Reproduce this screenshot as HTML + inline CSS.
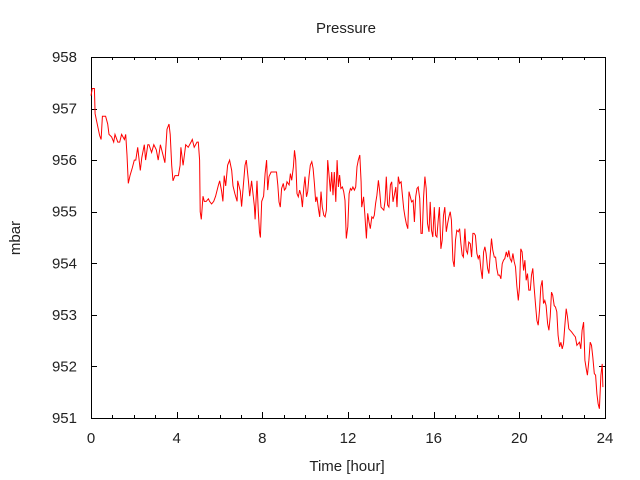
<!DOCTYPE html>
<html><head><meta charset="utf-8"><style>
html,body{margin:0;padding:0;background:#fff;}
svg{display:block;font-family:"Liberation Sans","DejaVu Sans",sans-serif;}
</style></head><body>
<svg id="chart" width="640" height="480" viewBox="0 0 640 480">
<rect x="0" y="0" width="640" height="480" fill="#fff"/>
<text x="346" y="33" font-size="15" text-anchor="middle" fill="#222">Pressure</text>
<text transform="translate(20,238) rotate(-90)" font-size="15" text-anchor="middle" fill="#222">mbar</text>
<text x="347" y="471" font-size="15" text-anchor="middle" fill="#222">Time [hour]</text>
<g id="axes"></g>
<g id="series"></g>
</svg>
<script>
const xTickLabels=[0,4,8,12,16,20,24];
const yTickLabels=[951,952,953,954,955,956,957,958];
const hours=[0,0.06,0.16,0.19,0.40,0.47,0.53,0.68,0.78,0.84,0.96,1.06,1.12,1.25,1.34,1.43,1.56,1.62,1.68,1.74,1.82,1.93,2.02,2.09,2.18,2.30,2.37,2.49,2.55,2.65,2.71,2.83,2.93,3.05,3.14,3.24,3.36,3.45,3.55,3.64,3.70,3.77,3.83,3.92,4.08,4.16,4.20,4.30,4.42,4.54,4.67,4.73,4.82,4.95,5.01,5.07,5.10,5.15,5.23,5.29,5.38,5.48,5.54,5.63,5.73,5.82,5.94,6.01,6.10,6.16,6.22,6.29,6.38,6.47,6.57,6.63,6.72,6.82,6.85,6.97,7.03,7.19,7.25,7.35,7.41,7.50,7.63,7.66,7.75,7.81,7.87,7.91,7.97,8.06,
8.13,8.20,8.25,8.31,8.41,8.52,8.66,8.72,8.78,8.84,8.90,8.98,9.03,9.09,9.15,9.25,9.31,9.37,9.45,9.50,9.56,9.62,9.68,9.74,9.81,9.87,9.93,9.99,10.06,10.12,10.18,10.24,10.31,10.37,10.43,10.49,10.55,10.62,10.68,10.74,10.80,10.87,10.93,10.99,11.05,11.11,11.18,11.24,11.30,11.36,11.43,11.49,11.55,11.61,11.67,11.74,11.80,11.86,11.92,11.99,12.05,12.11,12.17,12.23,12.30,12.36,12.42,12.48,12.55,12.61,12.64,12.73,12.79,12.86,12.92,12.98,13.04,13.11,13.17,13.23,13.29,13.35,13.42,13.48,13.54,13.60,13.67,13.73,13.79,13.85,13.91,13.98,14.04,14.10,14.16,14.23,14.29,14.35,14.41,14.48,14.54,14.60,14.66,14.72,14.79,14.85,14.91,14.97,15.04,15.10,15.16,15.22,15.28,15.35,15.41,15.47,15.53,
15.59,15.65,15.71,15.78,15.84,15.90,15.96,16.03,16.09,16.15,16.21,16.27,16.34,16.40,16.46,16.52,16.59,16.65,16.71,16.77,16.83,16.90,16.96,17.02,17.08,17.15,17.21,17.27,17.33,17.39,17.46,17.52,17.58,17.64,17.71,17.77,17.83,17.89,17.95,18.02,18.08,18.14,18.20,18.27,18.33,18.39,18.45,18.52,18.58,18.64,18.70,18.76,18.83,18.89,18.95,19.01,19.08,19.14,19.20,19.26,19.32,19.39,19.45,19.51,19.57,19.64,19.70,19.76,19.82,19.88,19.95,20.01,20.07,20.13,20.20,20.26,20.32,20.38,20.44,20.51,20.57,20.63,20.69,20.76,20.82,20.88,20.94,21.00,21.07,21.13,21.19,21.25,21.32,21.38,21.44,21.50,21.56,21.63,21.69,21.75,21.81,21.88,21.94,22.00,22.06,22.12,22.19,22.25,22.31,22.37,22.44,22.56,22.62,22.69,22.75,22.81,22.87,22.93,23.00,23.06,23.12,23.18,23.25,23.31,23.37,23.43,23.50,23.56,23.62,23.68,23.74,23.81,23.87,23.90];
const pressure=[957.25,957.39,957.39,956.9,956.48,956.4,956.85,956.85,956.7,956.5,956.45,956.35,956.5,956.35,956.35,956.5,956.4,956.5,956.1,955.55,955.7,955.85,956.0,956.0,956.25,955.8,956.05,956.3,956.0,956.3,956.3,956.15,956.3,956.2,956.0,956.3,956.1,955.95,956.6,956.7,956.5,955.9,955.6,955.7,955.7,955.9,956.25,955.9,956.3,956.25,956.35,956.4,956.25,956.35,956.35,956.0,955.0,954.85,955.3,955.2,955.2,955.25,955.2,955.15,955.2,955.3,955.5,955.6,955.4,955.2,955.7,955.5,955.9,956.0,955.8,955.5,955.35,955.2,955.6,955.4,955.1,955.9,956.0,955.6,955.3,955.6,955.1,954.85,955.6,955.0,954.6,954.5,955.2,955.3,
955.74,956.00,955.42,955.68,955.77,955.77,955.77,955.52,955.19,955.09,955.45,955.55,955.42,955.45,955.58,955.52,955.74,955.61,955.87,956.19,956.00,955.35,955.29,955.42,955.32,955.09,955.45,955.68,955.29,955.39,955.68,955.90,955.97,955.84,955.55,955.19,955.29,955.06,954.90,955.39,955.09,954.93,954.90,955.03,956.00,955.74,955.39,955.77,955.32,955.77,955.19,956.00,955.48,955.71,955.45,955.48,955.39,955.22,954.48,954.71,955.35,955.45,955.42,955.48,955.42,955.48,955.87,956.00,956.10,955.58,955.09,955.29,954.93,954.48,954.97,954.80,954.67,954.90,954.87,954.93,955.16,955.32,955.61,955.39,955.09,955.06,955.03,955.22,955.68,955.13,955.09,955.52,955.58,955.19,955.32,955.48,955.09,955.68,955.55,955.58,955.32,955.06,954.90,954.77,954.67,955.39,955.29,955.19,955.22,954.80,955.29,955.45,955.48,955.26,954.58,954.58,955.29,
955.68,955.45,954.77,954.61,955.19,954.64,954.51,955.09,954.54,954.51,954.84,955.09,954.28,954.45,954.93,955.09,954.61,954.77,954.90,955.00,954.84,954.06,953.93,954.45,954.64,954.61,954.67,954.38,954.16,954.12,954.67,954.25,954.19,954.41,954.38,954.12,954.58,954.58,954.54,954.19,954.09,954.16,953.90,953.70,954.22,954.32,954.19,953.90,953.80,954.16,954.48,954.25,954.12,954.12,953.90,953.77,953.77,953.70,953.99,954.06,954.09,954.22,954.12,954.25,954.09,954.03,954.19,954.03,953.93,953.57,953.28,953.54,954.28,954.22,953.86,954.06,953.67,953.80,953.48,953.48,953.77,953.90,953.54,953.18,952.89,952.80,953.09,953.54,953.67,953.22,953.28,953.18,952.83,952.70,952.96,953.44,953.38,953.18,953.15,953.06,952.60,952.38,952.47,952.34,952.44,952.76,953.12,952.96,952.73,952.70,952.67,952.60,952.57,952.41,952.44,952.47,952.34,952.70,952.86,952.12,951.96,951.83,952.12,952.47,952.41,952.18,951.86,951.83,951.47,951.28,951.18,951.83,952.05,951.60,951.66];

const X0=91,X1=605,Y0=418,Y1=57,XMIN=0,XMAX=24,YMIN=951,YMAX=958;
function sx(h){return X0+(h-XMIN)/(XMAX-XMIN)*(X1-X0);}
function sy(v){return Y0-(v-YMIN)/(YMAX-YMIN)*(Y0-Y1);}
const NS='http://www.w3.org/2000/svg';
const axes=document.getElementById('axes');
function line(x1,y1,x2,y2,name){
  const l=document.createElementNS(NS,'line');
  l.setAttribute('x1',x1);l.setAttribute('y1',y1);l.setAttribute('x2',x2);l.setAttribute('y2',y2);
  l.setAttribute('stroke','#000');l.setAttribute('stroke-width','1');
  
  
  axes.appendChild(l);
}
function text(x,y,s,anchor,name){
  const t=document.createElementNS(NS,'text');
  t.setAttribute('x',x);t.setAttribute('y',y);t.setAttribute('font-size','15');
  t.setAttribute('text-anchor',anchor);t.setAttribute('fill','#222');
  t.textContent=s;
  
  
  axes.appendChild(t);
}
// minor x ticks every hour
for(let h=XMIN;h<=XMAX;h++){
  const x=Math.round(sx(h))+0.5;
  const len=(h%4===0)?6:3;
  line(x,Y0,x,Y0-len,'x-tick');
  line(x,Y1,x,Y1+len,'x-tick-top');
}
xTickLabels.forEach(h=>{text(sx(h),443,String(h),'middle','x-tick-label');});
yTickLabels.forEach(v=>{
  const y=Math.round(sy(v))+0.5;
  line(X0,y,X0+6,y,'y-tick');
  line(X1,y,X1-6,y,'y-tick-right');
  text(77,sy(v)+5,String(v),'end','y-tick-label');
});
const frame=document.createElementNS(NS,'rect');
frame.setAttribute('x',X0+0.5);frame.setAttribute('y',Y1+0.5);
frame.setAttribute('width',X1-X0);frame.setAttribute('height',Y0-Y1);
frame.setAttribute('fill','none');frame.setAttribute('stroke','#000');


axes.appendChild(frame);
// series as step-like gnuplot line
let d='';
for(let i=0;i<hours.length;i++){d+=(i?'L':'M')+sx(hours[i]).toFixed(1)+','+sy(pressure[i]).toFixed(1);}
const p=document.createElementNS(NS,'path');
p.setAttribute('d',d);p.setAttribute('fill','none');p.setAttribute('stroke','#ff0000');p.setAttribute('stroke-width','1');


document.getElementById('series').appendChild(p);
</script>
</body></html>
